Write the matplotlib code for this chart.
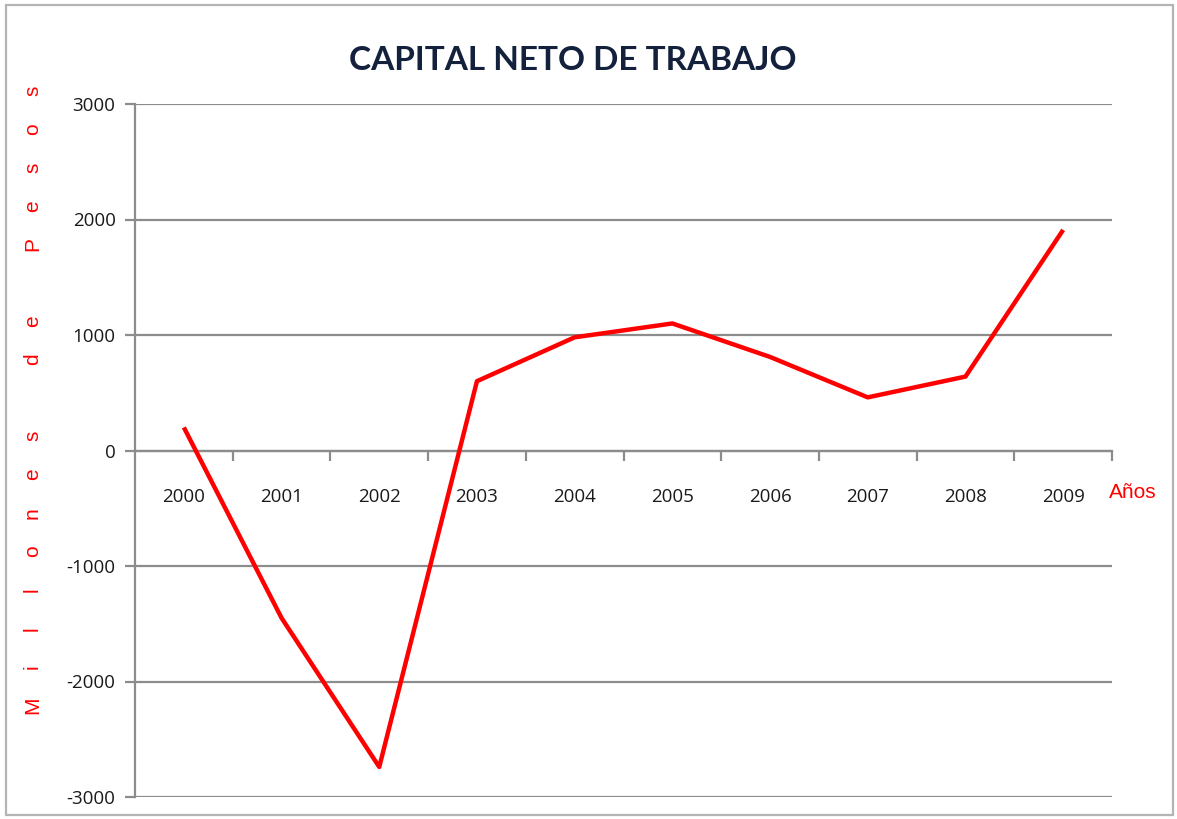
import numpy as np
import matplotlib
matplotlib.use('Agg')
from matplotlib import pyplot as plt
from matplotlib.patches import Rectangle

# data
years = ['2000', '2001', '2002', '2003', '2004', '2005', '2006', '2007', '2008', '2009']
capital = [200, -1450, -2740, 600, 980, 1100, 810, 460, 640, 1910]
y_ticks = [-3000, -2000, -1000, 0, 1000, 2000, 3000]
y_title = 'Millones de Pesos'

plt.rcParams['axes.unicode_minus'] = False

W, H = 1177, 819
fig = plt.figure(figsize=(W/100, H/100), dpi=100)
fig.patch.set_facecolor('white')

# outer frame of the chart
fig.patches.append(Rectangle((6/W, 1 - 815/H), (1173-6)/W, (815-5)/H,
                             transform=fig.transFigure, fill=False,
                             edgecolor='#b4b4b4', linewidth=1.6))

ax = fig.add_axes([135/W, 1 - 797/H, (1112-135)/W, (797-104)/H])
x = np.arange(len(years))
ax.plot(x, capital, color='#ff0000', linewidth=3.2, solid_capstyle='butt', zorder=3)

ax.set_xlim(-0.5, len(years) - 0.5)
ax.set_ylim(-3000, 3000)
ax.set_yticks(y_ticks)
ax.yaxis.grid(True, color='#8c8c8c', linewidth=1.6)
ax.set_axisbelow(True)

for s in ['top', 'right']:
    ax.spines[s].set_visible(False)
ax.spines['left'].set_color('#8c8c8c')
ax.spines['left'].set_linewidth(1.6)
ax.spines['bottom'].set_position(('data', 0))
ax.spines['bottom'].set_color('#8c8c8c')
ax.spines['bottom'].set_linewidth(1.6)

ax.tick_params(axis='y', length=7, width=1.6, color='#8c8c8c', pad=7,
               labelsize=13.5, labelcolor='#1a1a1a')
ax.set_xticks(x)
ax.set_xticklabels(years)
ax.set_xticks(np.arange(0.5, len(years)), minor=True)
ax.tick_params(axis='x', which='major', length=0, pad=27, labelsize=13.5,
               labelcolor='#1a1a1a')
ax.tick_params(axis='x', which='minor', length=7, width=1.6, color='#8c8c8c',
               direction='out')
for lab in ax.get_xticklabels() + ax.get_yticklabels():
    lab.set_family('Open Sans')

fig.text(573/W, 1 - 60/H, 'CAPITAL NETO DE TRABAJO', ha='center', va='center',
         fontsize=24, fontweight='bold', color='#14213d', family='Lato')
fig.text(1133/W, 1 - 493/H, 'Años', ha='center', va='center',
         fontsize=15, color='#ff0000', family='Liberation Sans')

# spaced-out vertical axis title, one letter per slot (word gap = one slot),
# letters share a common baseline
slot = 0
step = 38.4
for ch in y_title:
    if ch != ' ':
        fig.text(38/W, 1 - (705 - slot*step)/H, ch, rotation=90,
                 rotation_mode='anchor', ha='center', va='baseline',
                 fontsize=15, color='#ff0000', family='Liberation Sans')
    slot += 1

fig.savefig('out.png', dpi=100)
